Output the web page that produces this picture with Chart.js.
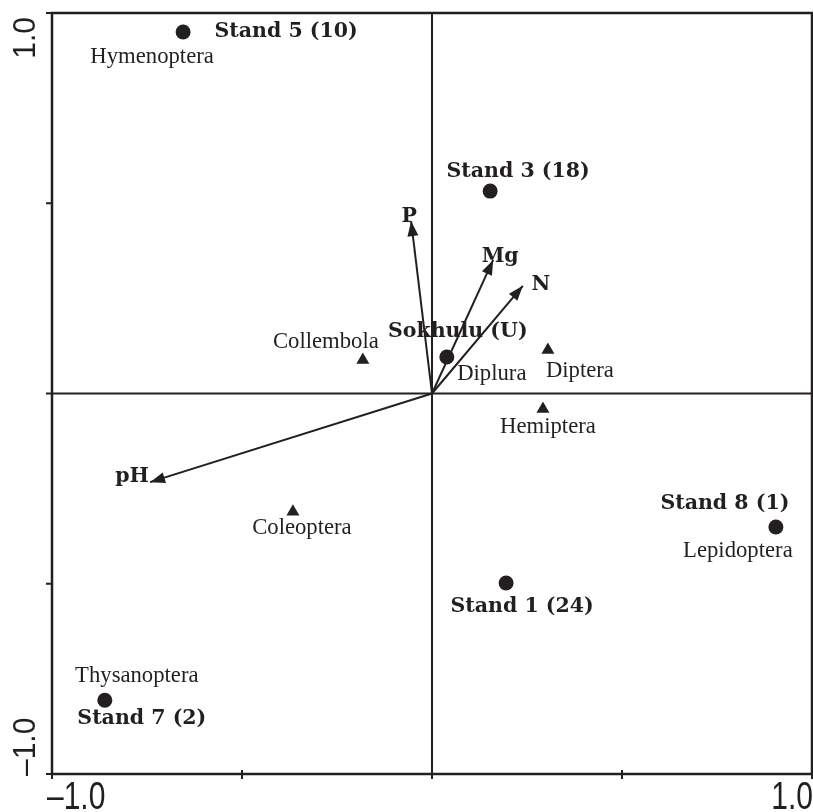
<!DOCTYPE html>
<html>
<head>
<meta charset="utf-8">
<script src="https://cdn.jsdelivr.net/npm/chart.js@4.4.0/dist/chart.umd.min.js"></script>
<style>
  html, body { margin: 0; padding: 0; background: #fff; }
  #wrap { width: 813px; height: 812px; }
</style>
</head>
<body>
<div id="wrap"><canvas id="ordination" width="813" height="812"></canvas></div>
<script>
// sites (circles)
const standNames = ['Stand 5 (10)', 'Stand 3 (18)', 'Sokhulu (U)', 'Stand 8 (1)', 'Stand 1 (24)', 'Stand 7 (2)'];
const standX = [-0.655, 0.153, 0.039, 0.905, 0.195, -0.861];
const standY = [0.950, 0.532, 0.096, -0.351, -0.498, -0.806];

// taxa (triangles) - some sit under the site circles
const taxaNames = ['Hymenoptera', 'Collembola', 'Diplura', 'Diptera', 'Hemiptera', 'Coleoptera', 'Lepidoptera', 'Thysanoptera'];
const taxaX = [-0.655, -0.182, 0.039, 0.305, 0.292, -0.366, 0.905, -0.861];
const taxaY = [0.950, 0.088, 0.096, 0.114, -0.041, -0.311, -0.351, -0.806];

// environmental vectors (arrows from the origin)
const envNames = ['P', 'Mg', 'N', 'pH'];
const envX = [-0.055, 0.161, 0.239, -0.742];
const envY = [0.453, 0.351, 0.283, -0.233];

// axes
const xTicks = [-1, -0.5, 0, 0.5, 1];
const yTicks = [-1, -0.5, 0, 0.5, 1];
const edgeValues = [-1, 1];
const edgeLabels = ['\u20131.0', '1.0'];

// label offsets in pixels from the marker (text centre, baseline)
const standLabelOffset = [[103, 5], [28, -14], [11, -20], [-51, -18], [16, 29], [37, 24]];
const taxaLabelOffset = [[-31, 31], [-37, -12], [45, 23], [32, 27], [5, 24], [9, 22], [-38, 30], [32, -18]];
const envLabelOffset = [[-2, 1], [7, 2], [18, 4], [-18, 0]];

const ink = '#231f20';
const boldFont = 'bold 20.5px "DejaVu Serif"';
const plainFont = '22.7px "Liberation Serif"';

const decor = {
  id: 'decor',
  beforeDatasetsDraw(chart) {
    const { ctx, chartArea: a, scales: { x, y } } = chart;
    ctx.save();
    ctx.strokeStyle = ink;
    ctx.fillStyle = ink;

    // centre lines
    ctx.lineWidth = 2;
    ctx.beginPath();
    ctx.moveTo(x.getPixelForValue(0), a.top);
    ctx.lineTo(x.getPixelForValue(0), a.bottom);
    ctx.moveTo(a.left, y.getPixelForValue(0));
    ctx.lineTo(a.right, y.getPixelForValue(0));
    ctx.stroke();

    // tick marks
    ctx.beginPath();
    xTicks.forEach(v => {
      const px = x.getPixelForValue(v);
      ctx.moveTo(px, a.bottom - 4);
      ctx.lineTo(px, a.bottom + 5);
    });
    yTicks.forEach(v => {
      const py = y.getPixelForValue(v);
      ctx.moveTo(a.left - 6, py);
      ctx.lineTo(a.left, py);
    });
    ctx.stroke();

    // frame
    ctx.lineWidth = 2.5;
    ctx.strokeRect(a.left, a.top, a.right - a.left, a.bottom - a.top);

    // x edge labels
    ctx.font = '30px "Liberation Sans"';
    ctx.textBaseline = 'alphabetic';
    edgeValues.forEach((v, i) => {
      ctx.save();
      ctx.translate(x.getPixelForValue(v) + (i === 0 ? -5 : 1), 809);
      ctx.scale(1, 1.3);
      ctx.textAlign = i === 0 ? 'left' : 'right';
      ctx.fillText(edgeLabels[i], 0, 0);
      ctx.restore();
    });

    // y edge labels, rotated
    ctx.font = '30px "Liberation Sans"';
    edgeValues.forEach((v, i) => {
      ctx.save();
      ctx.translate(35, y.getPixelForValue(v) + (i === 0 ? 2 : 4));
      ctx.rotate(-Math.PI / 2);
      ctx.scale(1, 1.05);
      ctx.textAlign = i === 0 ? 'left' : 'right';
      ctx.fillText(edgeLabels[i], 0, 0);
      ctx.restore();
    });
    ctx.restore();
  },
  afterDatasetsDraw(chart) {
    const { ctx, scales: { x, y } } = chart;
    const ox = x.getPixelForValue(0), oy = y.getPixelForValue(0);
    ctx.save();
    ctx.fillStyle = ink;

    // arrow heads
    envNames.forEach((n, i) => {
      const tx = x.getPixelForValue(envX[i]), ty = y.getPixelForValue(envY[i]);
      const ang = Math.atan2(ty - oy, tx - ox);
      const len = 15, half = 5.5;
      const bx = tx - Math.cos(ang) * len, by = ty - Math.sin(ang) * len;
      ctx.beginPath();
      ctx.moveTo(tx, ty);
      ctx.lineTo(bx - Math.sin(ang) * half, by + Math.cos(ang) * half);
      ctx.lineTo(bx + Math.sin(ang) * half, by - Math.cos(ang) * half);
      ctx.closePath();
      ctx.fill();
    });

    ctx.textAlign = 'center';
    ctx.textBaseline = 'alphabetic';

    ctx.font = plainFont;
    taxaNames.forEach((n, i) => {
      const o = taxaLabelOffset[i];
      ctx.fillText(n, x.getPixelForValue(taxaX[i]) + o[0], y.getPixelForValue(taxaY[i]) + o[1]);
    });

    ctx.font = boldFont;
    standNames.forEach((n, i) => {
      const o = standLabelOffset[i];
      ctx.fillText(n, x.getPixelForValue(standX[i]) + o[0], y.getPixelForValue(standY[i]) + o[1]);
    });
    envNames.forEach((n, i) => {
      const o = envLabelOffset[i];
      ctx.fillText(n, x.getPixelForValue(envX[i]) + o[0], y.getPixelForValue(envY[i]) + o[1]);
    });
    ctx.restore();
  }
};

const arrowSets = envNames.map((n, i) => ({
  type: 'line',
  label: n,
  data: [{ x: 0, y: 0 }, { x: envX[i], y: envY[i] }],
  borderColor: ink,
  borderWidth: 2,
  pointRadius: 0,
  fill: false
}));

new Chart(document.getElementById('ordination'), {
  type: 'scatter',
  data: {
    datasets: [
      {
        label: 'Stands',
        data: standX.map((v, i) => ({ x: v, y: standY[i] })),
        pointStyle: 'circle',
        pointRadius: 7.5,
        backgroundColor: ink,
        borderWidth: 0
      },
      {
        label: 'Taxa',
        data: taxaX.map((v, i) => ({ x: v, y: taxaY[i] })),
        pointStyle: 'triangle',
        pointRadius: 7.5,
        backgroundColor: ink,
        borderWidth: 0
      },
      ...arrowSets
    ]
  },
  options: {
    responsive: false,
    animation: false,
    layout: { autoPadding: false, padding: { left: 52, right: 1, top: 13, bottom: 38 } },
    scales: {
      x: { type: 'linear', min: -1, max: 1, display: false },
      y: { type: 'linear', min: -1, max: 1, display: false }
    },
    plugins: {
      legend: { display: false },
      tooltip: { enabled: false }
    }
  },
  plugins: [decor]
});
</script>
</body>
</html>
